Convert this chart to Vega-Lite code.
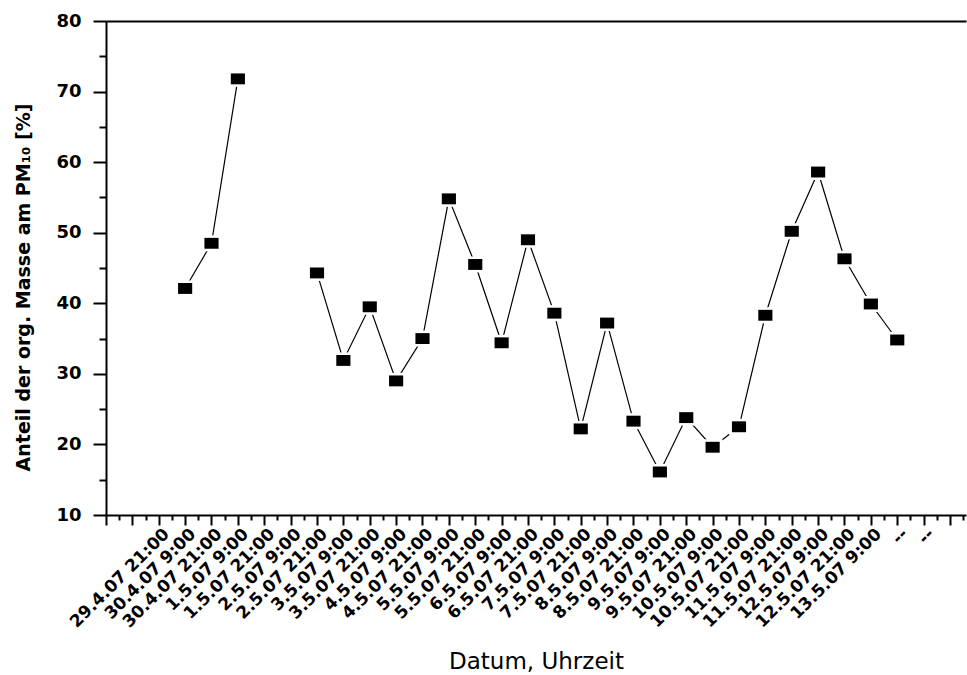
{
  "$schema": "https://vega.github.io/schema/vega-lite/v6.json",
  "autosize": {"type": "none"},
  "padding": {"left": 106, "top": 21, "right": 1, "bottom": 160},
  "width": 860,
  "height": 494,
  "background": "white",
  "config": {
    "view": {"stroke": null},
    "axis": {
      "domainColor": "black",
      "domainWidth": 2,
      "tickColor": "black",
      "tickWidth": 2,
      "labelColor": "black",
      "titleColor": "black",
      "grid": false,
      "labelFont": "DejaVu Sans",
      "labelFontWeight": "bold",
      "labelFontSize": 16,
      "titleFont": "DejaVu Sans"
    }
  },
  "resolve": {"axis": {"x": "independent", "y": "independent"}},
  "data": {
    "values": [
      {"k": 3, "Datum": "29.4.07 21:00", "Anteil": 42.1},
      {"k": 4, "Datum": "30.4.07 9:00", "Anteil": 48.5},
      {"k": 5, "Datum": "30.4.07 21:00", "Anteil": 71.8},
      {"k": 6, "Datum": "1.5.07 9:00", "Anteil": null},
      {"k": 7, "Datum": "1.5.07 21:00", "Anteil": null},
      {"k": 8, "Datum": "2.5.07 9:00", "Anteil": 44.3},
      {"k": 9, "Datum": "2.5.07 21:00", "Anteil": 31.9},
      {"k": 10, "Datum": "3.5.07 9:00", "Anteil": 39.5},
      {"k": 11, "Datum": "3.5.07 21:00", "Anteil": 29.0},
      {"k": 12, "Datum": "4.5.07 9:00", "Anteil": 35.0},
      {"k": 13, "Datum": "4.5.07 21:00", "Anteil": 54.8},
      {"k": 14, "Datum": "5.5.07 9:00", "Anteil": 45.5},
      {"k": 15, "Datum": "5.5.07 21:00", "Anteil": 34.4},
      {"k": 16, "Datum": "6.5.07 9:00", "Anteil": 49.0},
      {"k": 17, "Datum": "6.5.07 21:00", "Anteil": 38.6},
      {"k": 18, "Datum": "7.5.07 9:00", "Anteil": 22.2},
      {"k": 19, "Datum": "7.5.07 21:00", "Anteil": 37.2},
      {"k": 20, "Datum": "8.5.07 9:00", "Anteil": 23.3},
      {"k": 21, "Datum": "8.5.07 21:00", "Anteil": 16.1},
      {"k": 22, "Datum": "9.5.07 9:00", "Anteil": 23.8},
      {"k": 23, "Datum": "9.5.07 21:00", "Anteil": 19.6},
      {"k": 24, "Datum": "10.5.07 9:00", "Anteil": 22.5},
      {"k": 25, "Datum": "10.5.07 21:00", "Anteil": 38.3},
      {"k": 26, "Datum": "11.5.07 9:00", "Anteil": 50.2},
      {"k": 27, "Datum": "11.5.07 21:00", "Anteil": 58.6},
      {"k": 28, "Datum": "12.5.07 9:00", "Anteil": 46.3},
      {"k": 29, "Datum": "12.5.07 21:00", "Anteil": 39.9},
      {"k": 30, "Datum": "13.5.07 9:00", "Anteil": 34.8}
    ]
  },
  "layer": [
    {
      "mark": {"type": "line", "color": "black", "strokeWidth": 1.2, "invalid": "break-paths-show-domains"},
      "encoding": {
        "x": {
          "field": "k", "type": "quantitative",
          "scale": {"domain": [0, 32.607], "nice": false, "zero": false},
          "axis": {
            "orient": "bottom",
            "values": [0,1,2,3,4,5,6,7,8,9,10,11,12,13,14,15,16,17,18,19,20,21,22,23,24,25,26,27,28,29,30,31,32],
            "tickSize": 10,
            "labelFontSize": 17,
            "labelAngle": -45,
            "labelAlign": "right",
            "labelBaseline": "middle",
            "labelOffset": -19,
            "labelPadding": 6,
            "labelOverlap": false,
            "labelFlush": false,
            "labelBound": false,
            "labelExpr": "['', '', '', '29.4.07 21:00', '30.4.07 9:00', '30.4.07 21:00', '1.5.07 9:00', '1.5.07 21:00', '2.5.07 9:00', '2.5.07 21:00', '3.5.07 9:00', '3.5.07 21:00', '4.5.07 9:00', '4.5.07 21:00', '5.5.07 9:00', '5.5.07 21:00', '6.5.07 9:00', '6.5.07 21:00', '7.5.07 9:00', '7.5.07 21:00', '8.5.07 9:00', '8.5.07 21:00', '9.5.07 9:00', '9.5.07 21:00', '10.5.07 9:00', '10.5.07 21:00', '11.5.07 9:00', '11.5.07 21:00', '12.5.07 9:00', '12.5.07 21:00', '13.5.07 9:00', '--', '--'][round(datum.value)]",
            "title": "Datum, Uhrzeit",
            "titleFontWeight": "normal",
            "titleFontSize": 23,
            "titleX": 430,
            "titleY": 153,
            "titleAlign": "center",
            "titleBaseline": "alphabetic"
          }
        },
        "y": {
          "field": "Anteil", "type": "quantitative",
          "scale": {"domain": [10, 80], "nice": false, "zero": false},
          "axis": {
            "orient": "left",
            "values": [10, 20, 30, 40, 50, 60, 70, 80],
            "tickSize": 13,
            "labelFontSize": 18,
            "labelPadding": 12,
            "labelBaseline": "middle",
            "title": "Anteil der org. Masse am PM₁₀ [%]",
            "titleFontWeight": "bold",
            "titleFontSize": 19,
            "titleAngle": -90,
            "titleX": -77,
            "titleY": 266,
            "titleAlign": "center",
            "titleBaseline": "alphabetic"
          }
        }
      }
    },
    {
      "mark": {"type": "point", "filled": true, "color": "white", "opacity": 1, "shape": "M-1,-0.8H1V0.8H-1Z", "size": 400},
      "encoding": {
        "x": {
          "field": "k", "type": "quantitative",
          "axis": {
            "orient": "bottom",
            "values": [0.5,1.5,2.5,3.5,4.5,5.5,6.5,7.5,8.5,9.5,10.5,11.5,12.5,13.5,14.5,15.5,16.5,17.5,18.5,19.5,20.5,21.5,22.5,23.5,24.5,25.5,26.5,27.5,28.5,29.5,30.5,31.5,32.5],
            "tickSize": 5,
            "labels": false,
            "domain": false,
            "title": null
          }
        },
        "y": {
          "field": "Anteil", "type": "quantitative",
          "axis": {
            "orient": "left",
            "values": [15, 25, 35, 45, 55, 65, 75],
            "tickSize": 7,
            "labels": false,
            "domain": false,
            "title": null
          }
        }
      }
    },
    {
      "mark": {"type": "point", "filled": true, "color": "black", "opacity": 1, "shape": "M-1,-0.77H1V0.77H-1Z", "size": 200},
      "encoding": {
        "x": {
          "field": "k", "type": "quantitative",
          "axis": {
            "orient": "top",
            "ticks": false,
            "labels": false,
            "domain": true,
            "title": null
          }
        },
        "y": {"field": "Anteil", "type": "quantitative", "axis": null}
      }
    }
  ]
}
